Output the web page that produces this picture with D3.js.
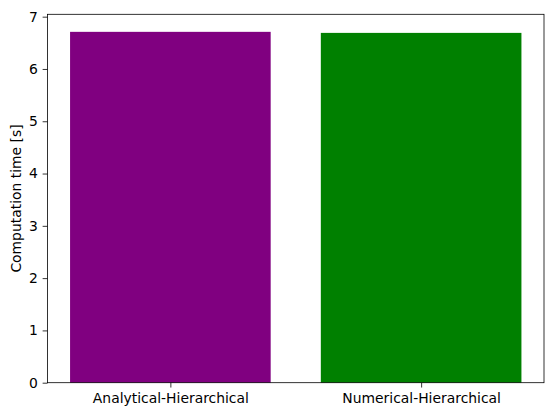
<!DOCTYPE html>
<html>
<head>
<meta charset="utf-8">
<script src="https://cdn.jsdelivr.net/npm/d3@7"></script>
<style>
  body { margin: 0; background: #fff; }
  text { font-family: "DejaVu Sans", sans-serif; }
</style>
</head>
<body>
<svg id="chart" width="554" height="417"></svg>
<script>
// values
const categories = ['Analytical-Hierarchical', 'Numerical-Hierarchical'];
const times = [6.71, 6.69];
const colors = ['purple', 'green'];
const yTicks = [0, 1, 2, 3, 4, 5, 6, 7];

const svg = d3.select('#chart');
const m = {left: 47.5, right: 10, top: 14.3, bottom: 34.3};
const W = 554, H = 417;
const fs = 13.9;

// matplotlib style: bars of width 0.8 at 0,1 with 5% margins
const x = d3.scaleLinear().domain([-0.49, 1.49]).range([m.left, W - m.right]);
const y = d3.scaleLinear().domain([0, d3.max(times) * 1.05]).range([H - m.bottom, m.top]);

const g = svg.append('g');

g.selectAll('rect.bar')
  .data(times)
  .join('rect')
  .attr('class', 'bar')
  .attr('x', (d, i) => x(i - 0.4))
  .attr('width', (d, i) => x(i + 0.4) - x(i - 0.4))
  .attr('y', d => y(d))
  .attr('height', d => y(0) - y(d))
  .attr('fill', (d, i) => colors[i]);

const xAxis = d3.axisBottom(x)
  .tickValues(categories.map((c, i) => i))
  .tickFormat(i => categories[i])
  .tickSize(4.86).tickPadding(4.86).tickSizeOuter(0);
const yAxis = d3.axisLeft(y)
  .tickValues(yTicks)
  .tickFormat(d3.format('d'))
  .tickSize(4.86).tickPadding(4.86).tickSizeOuter(0);

const gx = g.append('g').attr('transform', `translate(0,${y(0)})`).call(xAxis);
const gy = g.append('g').attr('transform', `translate(${m.left},0)`).call(yAxis);
[gx, gy].forEach(a => {
  a.select('.domain').remove();
  a.selectAll('.tick line').attr('stroke', '#000').attr('stroke-width', 0.8);
  a.selectAll('.tick text').attr('fill', '#000').style('font-size', fs + 'px').style('font-family', '"DejaVu Sans", sans-serif');
});
gx.selectAll('.tick text').attr('dy', '0.75em');

// frame
g.append('rect')
  .attr('x', m.left).attr('y', m.top)
  .attr('width', W - m.right - m.left)
  .attr('height', H - m.bottom - m.top)
  .attr('fill', 'none').attr('stroke', '#000').attr('stroke-width', 0.8);

g.append('text')
  .attr('transform', `translate(16.5,${(m.top + H - m.bottom) / 2}) rotate(-90)`)
  .attr('text-anchor', 'middle')
  .attr('dy', '0.35em')
  .style('font-size', fs + 'px')
  .text('Computation time [s]');
</script>
</body>
</html>
